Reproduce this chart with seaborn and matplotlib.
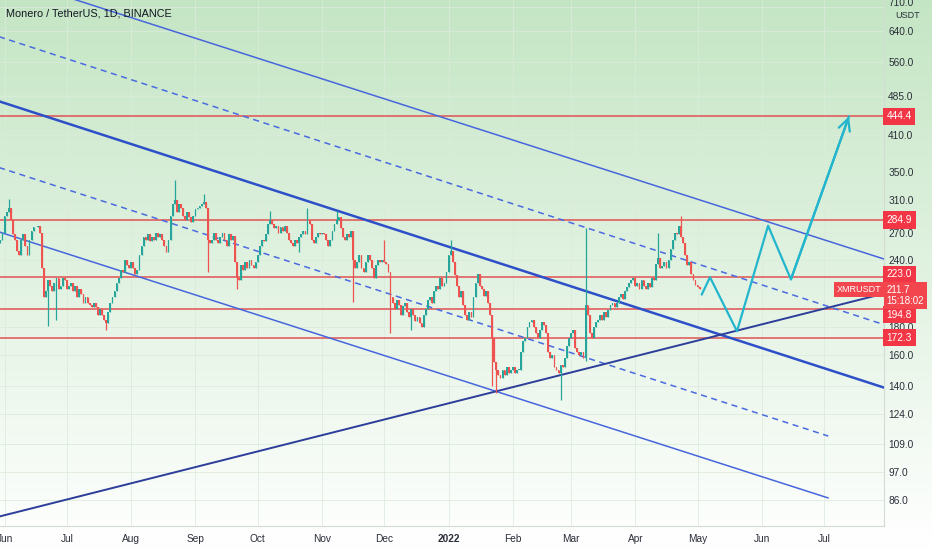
import matplotlib
matplotlib.use("Agg")
import matplotlib.pyplot as plt
import matplotlib.dates as mdates
import matplotlib.transforms as mtransforms
from matplotlib.ticker import NullLocator
import numpy as np
import pandas as pd
import seaborn as sns

# ---- daily candles XMR/USDT ----
first_day = "2021-05-30"
first_open = 258

close_may21 = [262, 270]
close_jun21 = [290, 295, 300, 285, 268, 262, 250, 245, 262, 268,
               255, 245, 262, 272, 276, 276, 278, 270, 232, 205,
               210, 220, 215, 210, 218, 222, 212, 215, 222, 220]
close_jul21 = [212, 215, 218, 210, 215, 205, 212, 208, 200, 205,
               200, 198, 196, 200, 196, 190, 195, 190, 186, 183,
               192, 200, 205, 210, 218, 222, 230, 228, 240, 235, 232]
close_aug21 = [238, 232, 226, 230, 245, 255, 265, 262, 268, 260,
               265, 262, 270, 265, 268, 262, 255, 248, 262, 290,
               305, 310, 295, 305, 300, 290, 285, 295, 288, 283, 290]
close_sep21 = [298, 300, 302, 305, 308, 300, 262, 258, 262, 270,
               262, 258, 265, 270, 262, 255, 268, 262, 266, 238,
               222, 220, 235, 230, 238, 232, 240, 235, 232, 238]
close_oct21 = [245, 255, 262, 260, 268, 280, 285, 280, 275, 278,
               270, 276, 272, 278, 270, 262, 258, 255, 262, 258,
               265, 268, 272, 268, 285, 280, 262, 258, 265, 270, 268]
close_nov21 = [270, 268, 262, 255, 262, 272, 280, 285, 288, 275,
               265, 262, 268, 265, 272, 240, 232, 238, 245, 232,
               228, 238, 245, 240, 232, 222, 235, 240, 238, 240]
close_dec21 = [238, 236, 228, 205, 200, 195, 202, 198, 190, 197,
               200, 192, 188, 195, 190, 185, 188, 183, 180, 190,
               195, 202, 205, 200, 210, 215, 212, 222, 215, 218, 228]
close_jan22 = [245, 250, 238, 225, 215, 205, 210, 198, 190, 186,
               192, 188, 205, 218, 226, 215, 212, 206, 210, 200,
               190, 172, 155, 150, 147, 145, 150, 147, 152, 148, 150]
close_feb22 = [152, 148, 150, 150, 162, 170, 172, 180, 184, 186,
               180, 176, 172, 178, 184, 182, 176, 162, 158, 160,
               152, 150, 148, 153, 152, 158, 166, 172]
close_mar22 = [176, 178, 165, 162, 160, 162, 158, 198, 190, 176,
               172, 180, 184, 186, 190, 186, 192, 188, 194, 198,
               200, 196, 200, 205, 208, 203, 210, 214, 218, 220, 222]
close_apr22 = [215, 218, 212, 220, 215, 212, 218, 214, 222, 220,
               236, 242, 232, 234, 238, 232, 240, 252, 262, 270,
               268, 278, 265, 258, 245, 235, 238, 226, 220, 216]
close_may22 = [214, 211.7]

# long wicks that stand out
wick_highs = {"2021-06-03": 312, "2021-08-22": 338, "2021-09-05": 318,
              "2021-10-07": 296, "2021-10-25": 300, "2021-11-08": 296,
              "2021-12-01": 262, "2022-01-02": 262, "2022-03-08": 275,
              "2022-04-12": 270, "2022-04-23": 290}
wick_lows = {"2021-06-22": 181, "2021-06-26": 186, "2021-07-20": 178,
             "2021-09-07": 228, "2021-09-21": 212, "2021-10-21": 248,
             "2021-11-16": 201, "2021-12-04": 176, "2021-12-14": 178,
             "2022-01-22": 140, "2022-01-24": 136, "2022-02-24": 132,
             "2022-03-08": 156}

# horizontal levels
levels = [444.4, 284.9, 223.0, 194.8, 172.3]
last_price = 211.7
countdown = "15:18:02"

# trend lines: (start date, end date), (start price, end price)
top_line = (["2021-06-01", "2022-07-30"], [806, 241])
upper_dash = (["2021-05-29", "2022-07-30"], [625, 182])
mid_line = (["2021-05-29", "2022-07-30"], [474, 139])
lower_dash = (["2021-05-29", "2022-07-03"], [357, 113])
bottom_line = (["2021-05-29", "2022-07-03"], [271, 86.7])
support_line = (["2021-05-29", "2022-07-30"], [80, 208])

# projected path
proj_dates = ["2022-05-03", "2022-05-07", "2022-05-20", "2022-06-04",
              "2022-06-15", "2022-07-13"]
proj_prices = [207, 223, 177, 278, 221, 444]

y_ticks = [86, 97, 109, 124, 140, 160, 180, 240, 270, 310, 350, 410,
           485, 560, 640, 710]

sns.set_theme(style="white")
plt.rcParams['font.family'] = ['Liberation Sans', 'DejaVu Sans']

closes = (close_may21 + close_jun21 + close_jul21 + close_aug21 + close_sep21 +
          close_oct21 + close_nov21 + close_dec21 + close_jan22 + close_feb22 +
          close_mar22 + close_apr22 + close_may22)
df = pd.DataFrame({"date": pd.date_range(first_day, periods=len(closes), freq="D"),
                   "close": closes})
df["open"] = [first_open] + closes[:-1]
df["high"] = df[["open", "close"]].max(axis=1)
df["low"] = df[["open", "close"]].min(axis=1)
for d, v in wick_highs.items():
    df.loc[df.date == pd.Timestamp(d), "high"] = v
for d, v in wick_lows.items():
    df.loc[df.date == pd.Timestamp(d), "low"] = v

fig = plt.figure(figsize=(9.32, 5.5), dpi=100)

# green gradient background
bg = fig.add_axes([0, 0, 1, 1], zorder=-5)
top = np.array([0.77, 0.90, 0.77])
bot = np.array([1.0, 1.0, 1.0])
t = np.linspace(0, 1, 256)[:, None]
grad = top * (1 - t) + bot * t
bg.imshow(grad[:, None, :], aspect="auto", extent=[0, 1, 0, 1])
bg.axis("off")

ax = fig.add_axes([0, 1 - 526 / 550, 884 / 932, 526 / 550])
ax.set_facecolor("none")
ax.set_yscale("log")

xl = mdates.date2num(pd.Timestamp("2021-05-29")) + 0.8
ax.set_xlim(xl, xl + 884 / 2.0748)
ax.set_ylim(76.9, 730.5)

# candles
x = mdates.date2num(df.date)
up = df.close >= df.open
cols = np.where(up, "#26a69a", "#ef5350")
ax.vlines(x, df.low, df.high, colors=cols, lw=0.9, zorder=3)
lo = df[["open", "close"]].min(axis=1)
hi = df[["open", "close"]].max(axis=1)
ax.bar(x, np.maximum(hi - lo, 0.8), bottom=lo, width=0.85, color=cols,
       linewidth=0, zorder=3)

# levels
for p in levels:
    ax.axhline(p, color="#e05252", lw=1.1, zorder=2)

# trend lines
def tline(spec, **kw):
    sns.lineplot(x=pd.to_datetime(spec[0]), y=spec[1], ax=ax, **kw)

tline(top_line, color="#4766dc", lw=1.1)
tline(upper_dash, color="#4a6ae0", lw=1.1, linestyle=(0, (4, 3)))
tline(mid_line, color="#2d50c8", lw=1.8)
tline(lower_dash, color="#4a6ae0", lw=1.1, linestyle=(0, (4, 3)))
tline(bottom_line, color="#4766dc", lw=1.1)
tline(support_line, color="#2c3e99", lw=1.4)

# projection
cyan = "#22b5cc"
pdates = pd.to_datetime(proj_dates)
sns.lineplot(x=pdates, y=proj_prices, ax=ax, color=cyan, lw=1.6, zorder=5)
ax.annotate("", xy=(mdates.date2num(pdates[-1]), proj_prices[-1]),
            xytext=(mdates.date2num(pdates[-2]), proj_prices[-2]),
            arrowprops=dict(arrowstyle="->,head_length=0.7,head_width=0.35",
                            color=cyan, lw=1.6, shrinkA=0, shrinkB=0), zorder=5)

ax.set_xlabel("")
ax.set_ylabel("")

# axes / ticks
ax.yaxis.tick_right()
ax.yaxis.set_minor_locator(NullLocator())
ax.set_yticks(y_ticks)
ax.set_yticklabels([f"{v:.1f}" for v in y_ticks])
ax.tick_params(axis="y", length=0, pad=3, labelsize=7.3, colors="#2a2e39")
# the topmost label sits half outside the chart, as on the original
top_lab = ax.get_yticklabels()[-1]
top_lab.set_transform(top_lab.get_transform() +
                      mtransforms.ScaledTranslation(0, 5 / 100, fig.dpi_scale_trans))

month_ticks = pd.date_range("2021-06-01", "2022-07-01", freq="MS")
ax.set_xticks(mdates.date2num(month_ticks))
ax.set_xticklabels(["2022" if m.month == 1 else m.strftime("%b") for m in month_ticks])
ax.tick_params(axis="x", length=0, pad=6, labelsize=7.3, colors="#2a2e39")
for lab in ax.get_xticklabels():
    if lab.get_text() == "2022":
        lab.set_fontweight("bold")

ax.grid(True, which="major", color=(0.86, 0.92, 0.86), lw=0.7, alpha=0.8)
ax.set_axisbelow(True)
for s in ["left", "top"]:
    ax.spines[s].set_visible(False)
for s in ["right", "bottom"]:
    ax.spines[s].set_color("#d3dcd3")
    ax.spines[s].set_linewidth(0.8)

# price labels on the scale (shifted a little where they would collide)
label_shift = {223.0: 3, 194.8: -6}
trans = mtransforms.blended_transform_factory(ax.transAxes, ax.transData)
for p in levels:
    off = mtransforms.ScaledTranslation(0, label_shift.get(p, 0) / 100,
                                        fig.dpi_scale_trans)
    ax.text(1.003, p, f"{p:.1f}", transform=trans + off, ha="left", va="center",
            fontsize=7.3, color="white", clip_on=False, zorder=10,
            bbox=dict(boxstyle="square,pad=0.35", fc="#f23645", ec="none"))
shift = mtransforms.ScaledTranslation(0, 4 / 100, fig.dpi_scale_trans)
ax.text(1.003, last_price, f"{last_price:.1f}\n{countdown}",
        transform=trans + shift, ha="left", va="top", fontsize=7,
        color="white", linespacing=1.1, clip_on=False, zorder=11,
        bbox=dict(boxstyle="square,pad=0.3", fc="#f2454d", ec="none"))
ax.text(0.9975, last_price, "XMRUSDT", transform=trans, ha="right", va="center",
        fontsize=6.5, color="white", clip_on=False, zorder=11,
        bbox=dict(boxstyle="square,pad=0.3", fc="#f2454d", ec="none"))

fig.text(6 / 932, 1 - 14 / 550, "Monero / TetherUS, 1D, BINANCE", ha="left",
         va="center", fontsize=7.8, color="#131722")
fig.text(908 / 932, 1 - 15 / 550, "USDT", ha="center", va="center",
         fontsize=6.5, color="#2a2e39")

fig.savefig("out.png", dpi=100)
